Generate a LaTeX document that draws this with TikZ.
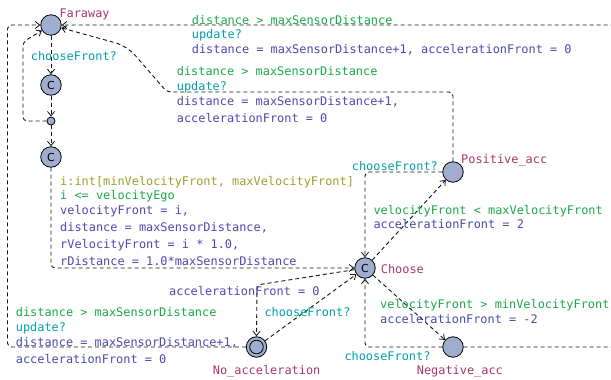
\documentclass[tikz,border=0pt]{standalone}
\usepackage{fontspec}
\setmonofont{DejaVu Sans Mono}
\setsansfont{DejaVu Sans}
\usetikzlibrary{arrows.meta}
\definecolor{locnamec}{RGB}{170,55,105}
\definecolor{guardc}{RGB}{25,170,75}
\definecolor{syncc}{RGB}{0,160,175}
\definecolor{updc}{RGB}{75,75,175}
\definecolor{selc}{RGB}{160,160,45}
\definecolor{locfill}{RGB}{161,173,206}
\definecolor{edgec}{RGB}{20,20,20}
\tikzset{
  loc/.style={circle, draw=black, fill=locfill, line width=0.8pt, minimum size=20.5pt, inner sep=0pt},
  committed/.style={loc, font=\sffamily\fontsize{11}{11}\selectfont},
  branchpt/.style={circle, draw=black, fill=locfill, line width=0.8pt, minimum size=8pt, inner sep=0pt},
  conn/.style={draw=edgec, line width=0.9pt, dash pattern=on 4pt off 3pt, rounded corners=4pt,
    -{Straight Barb[length=4.5pt,width=7pt,line width=0.8pt]}},
  lab/.style={inner sep=0pt, anchor=west, text height=10pt, text depth=2pt,
    font=\ttfamily\fontsize{11.9}{14}\selectfont},
  lname/.style={lab, text=locnamec},
  glabel/.style={lab, text=guardc},
  slabel/.style={lab, text=syncc},
  ulabel/.style={lab, text=updc},
  sellabel/.style={lab, text=selc},
}
\begin{document}
\begin{tikzpicture}[x=1pt, y=-1pt]
\useasboundingbox (0,0) rectangle (611,380);
\fill[white] (0,0) rectangle (611,380);
\clip (0,0) rectangle (611,380);

% locations
\node[loc] (far) at (51,25) {};
\node[committed] (c1) at (51,85) {C};
\node[branchpt] (br) at (51,121) {};
\node[committed] (c2) at (51,157) {C};
\node[committed] (ch) at (365,268) {C};
\node[loc] (pos) at (453,172) {};
\node[loc] (neg) at (453,347) {};
\node[loc] (noacc) at (256.5,347) {};
\draw[line width=0.8pt] (noacc.center) circle (6.8pt);

% location names
\node[lname] (nfar) at (59.3,13.3) {Faraway};
\node[lname] (npos) at (461,159.3) {Positive\_acc};
\node[lname] (nch) at (380.7,269.3) {Choose};
\node[lname] (nneg) at (416.7,370) {Negative\_acc};
\node[lname] (nnoacc) at (212.7,370) {No\_acceleration};

% edges
\draw[conn] (far) -- (c1);
\draw[conn] (c1) -- (br);
\draw[conn] (br.west) -- (23,121) -- (23,42) -- (far);
\draw[conn] (br) -- (c2);
\draw[conn] (c2.south) |- (ch.west);
\draw[conn] (pos.west) -| (ch.north);
\draw[conn] (neg.west) -| (ch.south);
\draw[conn] (ch) -- (pos);
\draw[conn] (ch) -- (neg);
\draw[conn] (ch) -- (257,285) -- (noacc.north);
\draw[conn] (noacc) -- (ch);
\draw[conn] (noacc.west) -- (7.5,347) -- (7.5,25) -- (far.west);
\draw[conn] (pos.north) -- (453,92) -- (167,92) [rounded corners=12pt] -- (127,46) -- (far);
\draw[conn] (neg.east) -- (618,347) -- (618,25) -- (far.east);

% edge labels
\node[slabel] (s1) at (30.7,56.7) {chooseFront?};

\node[glabel] (g2) at (191.7,20) {distance > maxSensorDistance};
\node[slabel] (s2) at (191.7,34.3) {update?};
\node[ulabel] (u2) at (191.7,49.3) {distance = maxSensorDistance+1, accelerationFront = 0};

\node[glabel] (g3) at (176.7,71.7) {distance > maxSensorDistance};
\node[slabel] (s3) at (176.7,86) {update?};
\node[ulabel] (u3a) at (176.7,101) {distance = maxSensorDistance+1,};
\node[ulabel] (u3b) at (176.7,118.3) {accelerationFront = 0};

\node[sellabel] (sel4) at (60,181) {i:int[minVelocityFront, maxVelocityFront]};
\node[glabel] (g4) at (60,195.7) {i <= velocityEgo};
\node[ulabel] (u4a) at (60,210.5) {velocityFront = i,};
\node[ulabel] (u4b) at (60,227.7) {distance = maxSensorDistance,};
\node[ulabel] (u4c) at (60,244.3) {rVelocityFront = i * 1.0,};
\node[ulabel] (u4d) at (60,261) {rDistance = 1.0*maxSensorDistance};

\node[slabel] (s5) at (351.7,166) {chooseFront?};
\node[glabel] (g6) at (373.3,210.3) {velocityFront < maxVelocityFront};
\node[ulabel] (u6) at (373.3,224.7) {accelerationFront = 2};

\node[ulabel] (u7) at (169,291) {accelerationFront = 0};
\node[slabel] (s8) at (264.3,312.7) {chooseFront?};

\node[glabel] (g9) at (15.7,312.7) {distance > maxSensorDistance};
\node[slabel] (s9) at (15.7,327.3) {update?};
\node[ulabel] (u9a) at (15.7,342) {distance = maxSensorDistance+1,};
\node[ulabel] (u9b) at (15.7,359) {accelerationFront = 0};

\node[glabel] (g10) at (380,304.3) {velocityFront > minVelocityFront};
\node[ulabel] (u10) at (380,319.3) {accelerationFront = -2};
\node[slabel] (s11) at (344.3,356.7) {chooseFront?};
\end{tikzpicture}
\end{document}
